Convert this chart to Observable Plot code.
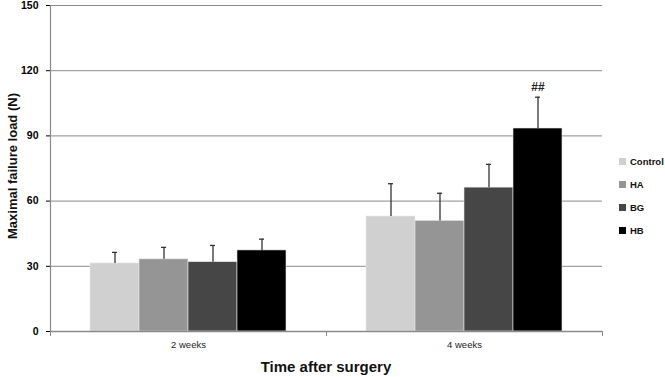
<!DOCTYPE html>
<html>
<head>
<meta charset="utf-8">
<script src="https://cdn.jsdelivr.net/npm/d3@7"></script>
<script src="https://cdn.jsdelivr.net/npm/@observablehq/plot@0.6"></script>
<style>
  body { margin: 0; background: #fff; }
  #wrap { position: relative; width: 665px; height: 377px; font-family: "Liberation Sans", Arial, sans-serif; }
  .ytitle { position: absolute; left: 12px; top: 166px; transform: translate(-50%, -50%) rotate(-90deg); font-weight: bold; font-size: 13px; white-space: nowrap; color: #111; }
  .xtitle { position: absolute; left: 326px; top: 366px; transform: translate(-50%, -50%); font-weight: bold; font-size: 15px; white-space: nowrap; color: #111; }
  .legend { position: absolute; left: 619px; top: 154px; font-weight: bold; font-size: 9.5px; color: #111; }
  .legend div { display: flex; align-items: center; height: 14px; margin-bottom: 9px; }
  .legend span.sw { display: inline-block; width: 7px; height: 7px; margin-right: 4px; }
</style>
</head>
<body>
<div id="wrap">
  <div id="chart"></div>
  <div class="ytitle">Maximal failure load (N)</div>
  <div class="xtitle">Time after surgery</div>
  <div class="legend" id="legend"></div>
</div>
<script>
const times = ["2 weeks", "4 weeks"];
const groups = ["Control", "HA", "BG", "HB"];
const colors = ["#d0d0d0", "#959595", "#464646", "#000000"];
const means2w = [31.3, 33.2, 31.9, 37.3];
const errs2w = [5.1, 5.5, 7.7, 5.2];
const means4w = [52.9, 50.9, 66.2, 93.4];
const errs4w = [15.1, 12.7, 10.7, 14.4];
const yTicks = [0, 30, 60, 90, 120, 150];
const sigLabel = {time: "4 weeks", group: "HB", text: "##"};

const data = [];
groups.forEach((g, i) => {
  data.push({time: "2 weeks", group: g, value: means2w[i], err: errs2w[i]});
  data.push({time: "4 weeks", group: g, value: means4w[i], err: errs4w[i]});
});
const sig = data.filter(d => d.time === sigLabel.time && d.group === sigLabel.group).map(d => ({...d, text: sigLabel.text}));

const chart = Plot.plot({
  width: 665,
  height: 377,
  marginLeft: 49,
  marginRight: 63,
  marginTop: 5,
  marginBottom: 46,
  style: {fontFamily: "Liberation Sans, Arial, sans-serif", background: "white", overflow: "visible"},
  fx: {domain: times, padding: 0, label: null, tickSize: 0, tickPadding: 10, axis: "bottom"},
  x: {domain: groups, paddingInner: 0, paddingOuter: 0.765, axis: null},
  y: {domain: [0, 150], ticks: yTicks, tickSize: 4, tickPadding: 8, label: null},
  color: {domain: groups, range: colors},
  marks: [
    Plot.ruleY(yTicks.filter(t => t > 0), {stroke: "#8a8a8a", strokeWidth: 1}),
    Plot.barY(data, {fx: "time", x: "group", y: "value", fill: "group", stroke: "#e6e6e6", strokeWidth: 0.6}),
    Plot.ruleX(data, {fx: "time", x: "group", y1: "value", y2: d => d.value + d.err, stroke: "#333", strokeWidth: 1.3}),
    Plot.tickY(data, {fx: "time", x: "group", y: d => d.value + d.err, stroke: "#333", strokeWidth: 1.3, insetLeft: 22, insetRight: 22}),
    Plot.text(sig, {fx: "time", x: "group", y: d => d.value + d.err, text: "text", dy: -10, fontSize: 12, fontWeight: "bold", fill: "#222"}),
    Plot.ruleY([0], {stroke: "#8a8a8a", strokeWidth: 1.5}),
    Plot.frame({anchor: "left", facetAnchor: "left", stroke: "#8a8a8a", strokeWidth: 1.2}),
    Plot.frame({anchor: "left", stroke: "#8a8a8a", strokeWidth: 1, insetTop: 326, insetBottom: -4}),
    Plot.frame({anchor: "right", stroke: "#8a8a8a", strokeWidth: 1, insetTop: 326, insetBottom: -4})
  ]
});
document.getElementById("chart").appendChild(chart);

const svg = d3.select(chart.tagName === "svg" ? chart : chart.querySelector("svg"));
svg.selectAll("[aria-label='y-axis tick label']").style("font-weight", "bold").style("font-size", "10.5px");
svg.selectAll("[aria-label='fx-axis tick label']").style("font-size", "9.5px").style("fill", "#222");
svg.selectAll("[aria-label='y-axis tick']").style("stroke", "#8a8a8a");

const legend = document.getElementById("legend");
groups.forEach((g, i) => {
  const row = document.createElement("div");
  row.innerHTML = `<span class="sw" style="background:${colors[i]}"></span>${g}`;
  legend.appendChild(row);
});
</script>
</body>
</html>
